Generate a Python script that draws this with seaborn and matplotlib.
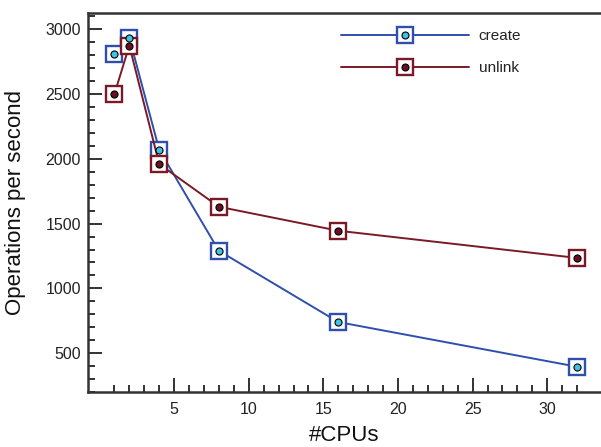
import matplotlib
matplotlib.use("Agg")
import matplotlib.pyplot as plt
from matplotlib.lines import Line2D
from matplotlib.legend_handler import HandlerTuple
from matplotlib.ticker import FixedLocator
import seaborn as sns
import pandas as pd

cpus = [1, 2, 4, 8, 16, 32]
create_ops = [2810, 2935, 2070, 1290, 740, 395]
unlink_ops = [2500, 2875, 1960, 1630, 1445, 1235]
series_names = ["create", "unlink"]
x_major = [5, 10, 15, 20, 25, 30]
y_major = [500, 1000, 1500, 2000, 2500, 3000]

line_colors = {"create": "#2f4fae", "unlink": "#7a1a26"}
dot_colors = {"create": "#3cc4e4", "unlink": "#6a1020"}

sns.set_style("white")
plt.rcParams["font.family"] = ["Liberation Sans", "DejaVu Sans"]

df = pd.DataFrame({
    "cpus": cpus * 2,
    "ops": create_ops + unlink_ops,
    "op": [series_names[0]] * len(cpus) + [series_names[1]] * len(cpus),
})

fig = plt.figure(figsize=(6.01, 4.47), dpi=100)
ax = fig.add_axes([88 / 601, 55 / 447, 513 / 601, 379 / 447])

handles = []
for name in series_names:
    sub = df[df["op"] == name]
    sns.lineplot(data=sub, x="cpus", y="ops", ax=ax, color=line_colors[name],
                 linewidth=1.4, marker="s", markersize=12,
                 markerfacecolor="white", markeredgecolor=line_colors[name],
                 markeredgewidth=1.7, zorder=3)
    sns.scatterplot(data=sub, x="cpus", y="ops", ax=ax, color=dot_colors[name],
                    edgecolor="black", linewidth=0.8, s=26, zorder=4)
    h_line = Line2D([], [], color=line_colors[name], linewidth=1.4, marker="s",
                    markersize=12, markerfacecolor="white",
                    markeredgecolor=line_colors[name], markeredgewidth=1.7)
    h_dot = Line2D([], [], linestyle="none", marker="o", markersize=5,
                   markerfacecolor=dot_colors[name], markeredgecolor="black",
                   markeredgewidth=0.8)
    handles.append((h_line, h_dot))

ax.set_xlim(-0.77, 33.6)
ax.set_ylim(200, 3126)

ax.xaxis.set_major_locator(FixedLocator(x_major))
ax.xaxis.set_minor_locator(FixedLocator([v for v in range(1, 33) if v not in x_major]))
ax.yaxis.set_major_locator(FixedLocator(y_major))
ax.yaxis.set_minor_locator(FixedLocator([v for v in range(200, 3101, 100) if v not in y_major]))

ax.tick_params(axis="both", which="major", direction="in", length=10, width=1.3,
               color="#222222", labelsize=11.5, labelcolor="#222222")
ax.tick_params(axis="both", which="minor", direction="in", length=5, width=1.3,
               color="#222222")
ax.tick_params(axis="x", which="major", pad=7)
ax.tick_params(axis="y", which="major", pad=5)
ax.tick_params(left=True, bottom=True, which="both")

for side in ["top", "left", "bottom"]:
    ax.spines[side].set_visible(True)
    ax.spines[side].set_color("#333333")
    ax.spines[side].set_linewidth(1.8)
ax.spines["right"].set_visible(False)

ax.set_xlabel("#CPUs", fontsize=16, labelpad=6, color="#111111")
ax.set_ylabel("Operations per second", fontsize=16, labelpad=14, color="#111111")

leg = ax.legend(handles, series_names, handler_map={tuple: HandlerTuple(ndivide=1)},
                loc="upper left", bbox_to_anchor=((341 - 88) / 513, 0.958),
                frameon=False, fontsize=11, handlelength=8.4, handletextpad=0.6,
                labelspacing=1.2, borderpad=0, borderaxespad=0)
for t in leg.get_texts():
    t.set_color("#222222")

fig.savefig("out.png", dpi=100)
